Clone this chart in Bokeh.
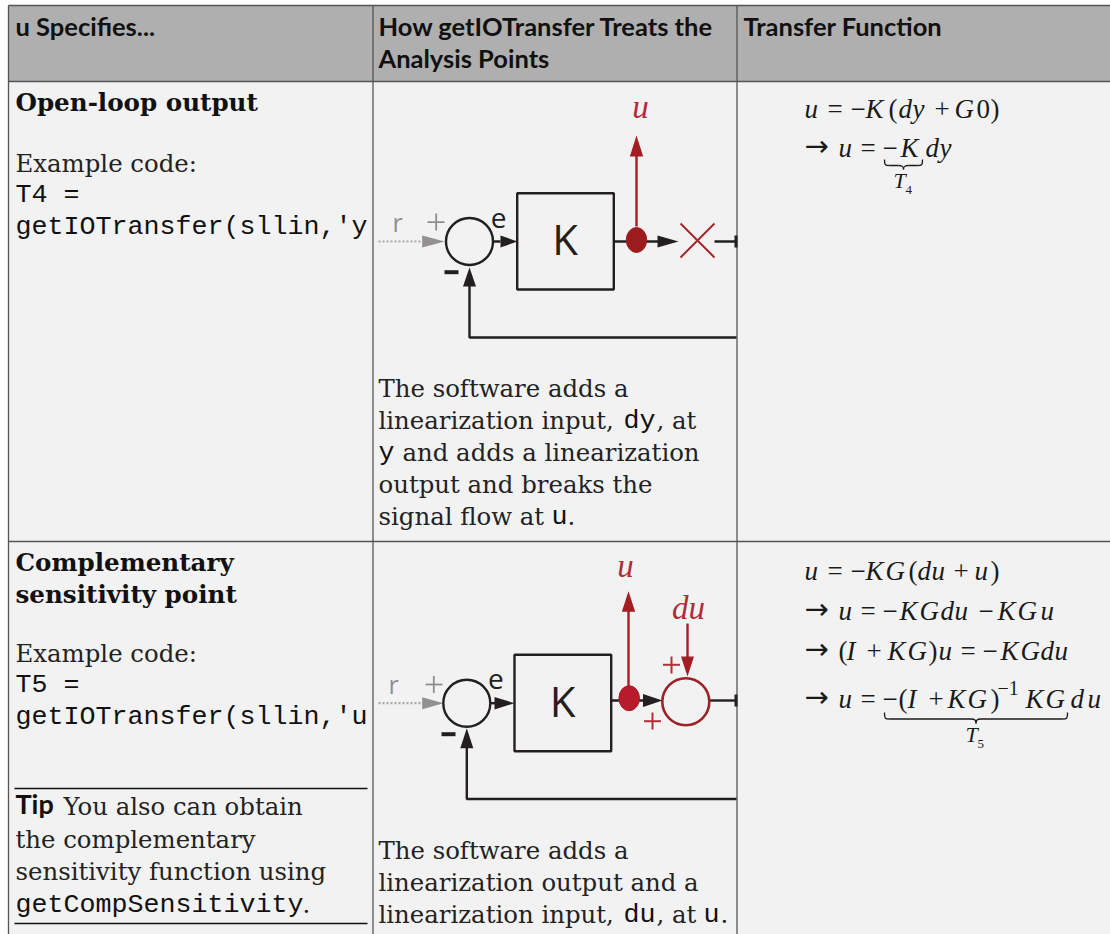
from bokeh.plotting import figure
from bokeh.models import Range1d
from bokeh.core.properties import value
from bokeh.embed import file_html
from bokeh.resources import INLINE

INK = "#231f20"; RED = "#a51d24"; TXTRED = "#b5293a"; GREY = "#8f8d8e"; RULE = "#555555"

# ---- table geometry
col_edges = [8, 372.5, 736.5, 1112]
row_edges = [5, 81, 541, 936]

# ---- texts: (x, baseline y, string)
header_runs = [(15, 36, "u Specifies..."), (378, 36, "How getIOTransfer Treats the"),
               (378, 68, "Analysis Points"), (743, 36, "Transfer Function")]
tip_runs = [(15, 815, "Tip")]
bold_runs = [(15, 111, "Open-loop output"), (15, 571, "Complementary"), (15, 603, "sensitivity point")]
body_runs = [(15, 172, "Example code:"), (15, 662, "Example code:"),
             (378, 397, "The software adds a"), (378, 429, "linearization input,"), (656, 429, ", at"),
             (402, 461, "and adds a linearization"), (378, 493, "output and breaks the"),
             (378, 525, "signal flow at"), (567, 525, "."),
             (378, 859, "The software adds a"), (378, 891, "linearization output and a"),
             (378, 923, "linearization input,"), (656, 923, ", at"), (720, 923, "."),
             (63, 815, "You also can obtain"), (15, 848, "the complementary"),
             (15, 880, "sensitivity function using"), (302, 913, ".")]
mono_runs = [(15, 203, "T4 ="), (15, 235, "getIOTransfer(sllin,'y"), (15, 693, "T5 ="),
             (15, 725, "getIOTransfer(sllin,'u"), (15, 913, "getCompSensitivity"),
             (623, 429, "dy"), (378, 461, "y"), (551, 525, "u"), (623, 923, "du"), (703, 923, "u")]
math_italic = [(804, 118, "u"), (865, 118, "K"), (898, 118, "d"), (912, 118, "y"), (954, 118, "G"),
               (838, 157, "u"), (900, 157, "K"), (925, 157, "d"), (939, 157, "y"),
               (804, 580, "u"), (865, 580, "K"), (885, 580, "G"), (917, 580, "d"), (931, 580, "u"), (974, 580, "u"),
               (838, 620, "u"), (899, 620, "K"), (919, 620, "G"), (940, 620, "d"), (954, 620, "u"),
               (997, 620, "K"), (1017, 620, "G"), (1040, 620, "u"),
               (846, 660, "I"), (887, 660, "K"), (907, 660, "G"), (938, 660, "u"),
               (1000, 660, "K"), (1020, 660, "G"), (1040, 660, "d"), (1054, 660, "u"),
               (838, 708, "u"), (907, 708, "I"), (947, 708, "K"), (967, 708, "G"),
               (1025, 708, "K"), (1045, 708, "G"), (1070, 708, "d"), (1087, 708, "u")]
math_roman = [(827, 118, "="), (850, 118, "\u2212"), (888, 118, "("), (934, 118, "+"), (976, 118, "0"), (990, 118, ")"),
              (860, 157, "="), (882, 157, "\u2212"),
              (827, 580, "="), (850, 580, "\u2212"), (908, 580, "("), (953, 580, "+"), (990, 580, ")"),
              (860, 620, "="), (882, 620, "\u2212"), (978, 620, "\u2212"),
              (838, 660, "("), (866, 660, "+"), (928, 660, ")"), (960, 660, "="), (982, 660, "\u2212"),
              (860, 708, "="), (882, 708, "\u2212"), (898, 708, "("), (928, 708, "+"), (990, 708, ")")]
math_arrow = [(804, 157, "\u2192"), (804, 620, "\u2192"), (804, 660, "\u2192"), (804, 708, "\u2192")]
math_small_italic = [(893, 188, "T"), (965, 742, "T")]
math_sub = [(905, 194, "4"), (977, 748, "5")]
math_sup = [(997, 695, "\u22121")]
dia_e = [(498, 229, "e"), (495.3, 690.7, "e")]
dia_k = [(564.5, 256, "K"), (562, 718, "K")]
dia_grey = [(397, 232, "r"), (393, 694, "r")]
dia_red = [(640, 118, "u"), (625, 577, "u"), (688, 619, "du")]

# ---- diagram strokes: polylines of (xs, ys)
black_lines = [
    ([492.5, 500], [241, 241]), ([613, 660], [241, 241]), ([714, 736], [241, 241]),
    ([469, 469, 736], [285, 337, 337]),
    ([489.5, 500], [702.7, 702.7]), ([610, 645], [700, 700]), ([709, 736], [700, 700]),
    ([466.3, 466.3, 736], [747, 798.5, 798.5]),
]
red_lines = [([636, 636], [226, 155]), ([628, 628], [690, 610]), ([687, 687], [623, 657])]
grey_dotted = [([378, 422], [241, 241]), ([378, 422], [702.7, 702.7])]
x_mark = [([680, 714], [223, 257]), ([680, 714], [257, 223])]
grey_plus = [([427, 444], [221.7, 221.7]), ([435.7, 435.7], [213, 230]),
             ([425, 442], [684, 684]), ([433.3, 433.3], [675.5, 692.5])]
red_plus = [([662.5, 679.5], [664.3, 664.3]), ([671, 671], [656, 673]),
            ([643.5, 660.5], [720.7, 720.7]), ([652, 652], [712, 729])]
minus_bars = [([444, 458], [271.7, 271.7]), ([441, 455], [733.7, 733.7])]
stubs = [([735.5, 735.5], [235, 247]), ([735.5, 735.5], [694, 706])]
rules = [([14, 367], [788, 788]), ([14, 367], [923, 923])]

# ---- arrowheads (three corners)
black_heads = [([500, 517, 500], [235, 241, 247]), ([657, 678, 657], [235, 241, 247]),
               ([462.5, 469, 475.5], [286, 267, 286]),
               ([494, 514, 494], [696.5, 702.7, 708.9]), ([642.5, 662, 642.5], [693.5, 700, 706.5]),
               ([459.8, 466.3, 472.8], [747.7, 727.7, 747.7])]
grey_heads = [([421.7, 444, 421.7], [235, 241, 247]), ([421.7, 443, 421.7], [696.7, 702.7, 708.7])]
red_heads = [([629.3, 636, 642.7], [156, 135, 156]), ([621.3, 628, 634.7], [611.3, 590.7, 611.3]),
             ([680.5, 687, 693.5], [656, 676, 656])]

# ---- sum junctions, pick-off dots, K boxes
black_circles = [(469, 241), (466.3, 702.7)]
red_circles = [(685.3, 701.3)]
dots = [(636, 239.5, "#9b1c1f"), (628.7, 697.7, "#b81c2c")]
k_boxes = [(516.7, 613.3, 192.7, 289), (514, 610.7, 654.3, 750.7)]

# ---- under-braces: x from, x to, y top, y bar, y cusp
braces = [(884, 922, 159, 165, 169), (884, 1067, 712, 718.5, 723)]

# how far the page's alphabetic baseline falls below the asked position, per font (in em)
BASE_DROP = {"DejaVu Serif": 0.38, "Liberation Serif": 0.36, "Liberation Mono": 0.30,
             "Lato": 0.43, "Open Sans": 0.42, "DejaVu Sans": 0.38}

p = figure(width=1110, height=934, output_backend="svg", toolbar_location=None,
           x_range=Range1d(0, 1110), y_range=Range1d(934, 0), min_border=0,
           outline_line_color=None, background_fill_color="#ffffff", border_fill_color="#ffffff")
p.xaxis.visible = False
p.yaxis.visible = False
p.grid.visible = False

# cells
p.quad(left=[col_edges[0]], right=[col_edges[-1]], top=[row_edges[0]], bottom=[row_edges[1]],
       fill_color="#afafaf", line_color=None)
p.quad(left=[col_edges[0]], right=[col_edges[-1]], top=[row_edges[1]], bottom=[row_edges[-1]],
       fill_color="#f2f2f2", line_color=None)
for e in col_edges[:-1]:
    p.line([e, e], [row_edges[0], row_edges[-1]], line_color=RULE, line_width=1.3)
for e in row_edges[:-1]:
    p.line([col_edges[0], col_edges[-1]], [e, e], line_color=RULE, line_width=1.5)


def put(runs, font, size, style="normal", color="#1a1a1a", align="left"):
    drop = BASE_DROP[font] * size
    p.text([r[0] for r in runs], [r[1] - drop for r in runs], text=[r[2] for r in runs],
           text_font=value(font), text_font_size=f"{size}px", text_font_style=style,
           text_color=color, text_baseline="alphabetic", text_align=align)


def strokes(items, color, width, dash="solid", cap="butt"):
    for xs, ys in items:
        p.line(xs, ys, line_color=color, line_width=width, line_dash=dash, line_cap=cap)


def heads(items, color):
    p.patches([h[0] for h in items], [h[1] for h in items], fill_color=color, line_color=None)


put(header_runs, "Lato", 25.5, "bold", "#111111")
put(tip_runs, "Lato", 27, "bold", "#111111")
put(bold_runs, "DejaVu Serif", 24.6, "bold", "#111111")
put(body_runs, "DejaVu Serif", 24.4, "normal", "#222222")
put(mono_runs, "Liberation Mono", 26.67, "normal", "#111111")
put(math_italic, "Liberation Serif", 27, "italic")
put(math_roman, "Liberation Serif", 27)
put(math_arrow, "DejaVu Sans", 29)
put(math_small_italic, "Liberation Serif", 22, "italic")
put(math_sub, "Liberation Serif", 13)
put(math_sup, "Liberation Serif", 20)
put(dia_k, "Open Sans", 42, "normal", INK, "center")
put(dia_e, "Open Sans", 28, "normal", INK, "center")
put(dia_grey, "Open Sans", 25, "normal", GREY, "center")
put(dia_red, "Liberation Serif", 33, "italic", TXTRED, "center")

p.quad(left=[b[0] for b in k_boxes], right=[b[1] for b in k_boxes],
       top=[b[2] for b in k_boxes], bottom=[b[3] for b in k_boxes],
       fill_color=None, line_color=INK, line_width=2.4)
strokes(black_lines, INK, 2.4)
strokes(red_lines, RED, 2.4)
strokes(grey_dotted, "#a8a6a7", 2.2, "2 2")
strokes(x_mark, "#a3262a", 2)
strokes(grey_plus, GREY, 1.8)
strokes(red_plus, "#b03036", 2)
strokes(minus_bars, INK, 4)
strokes(stubs, INK, 3)
strokes(rules, "#111111", 1.3)
heads(black_heads, INK)
heads(grey_heads, "#939091")
heads(red_heads, RED)
p.scatter([c[0] for c in black_circles], [c[1] for c in black_circles], size=47, marker="circle",
          fill_color=None, line_color=INK, line_width=2.4)
p.scatter([c[0] for c in red_circles], [c[1] for c in red_circles], size=47, marker="circle",
          fill_color=None, line_color="#9b2226", line_width=2.6)
p.ellipse([d[0] for d in dots], [d[1] for d in dots], width=20.5, height=25,
          fill_color=[d[2] for d in dots], line_color=RED, line_width=1)
for x0, x1, yt, yb, yc in braces:
    m = (x0 + x1) / 2
    p.bezier(x0=[x0, x1, m, m], y0=[yt, yt, yc, yc], x1=[x0 + 5, x1 - 5, m - 5, m + 5], y1=[yb, yb, yb, yb],
             cx0=[x0, x1, m, m], cy0=[yb, yb, yb + 1, yb + 1], cx1=[x0 + 1, x1 - 1, m - 1, m + 1], cy1=[yb, yb, yb, yb],
             line_color="#1a1a1a", line_width=1.3)
    p.line([x0 + 5, m - 5], [yb, yb], line_color="#1a1a1a", line_width=1.3)
    p.line([m + 5, x1 - 5], [yb, yb], line_color="#1a1a1a", line_width=1.3)

open("out.html", "w").write(file_html(p, INLINE))
